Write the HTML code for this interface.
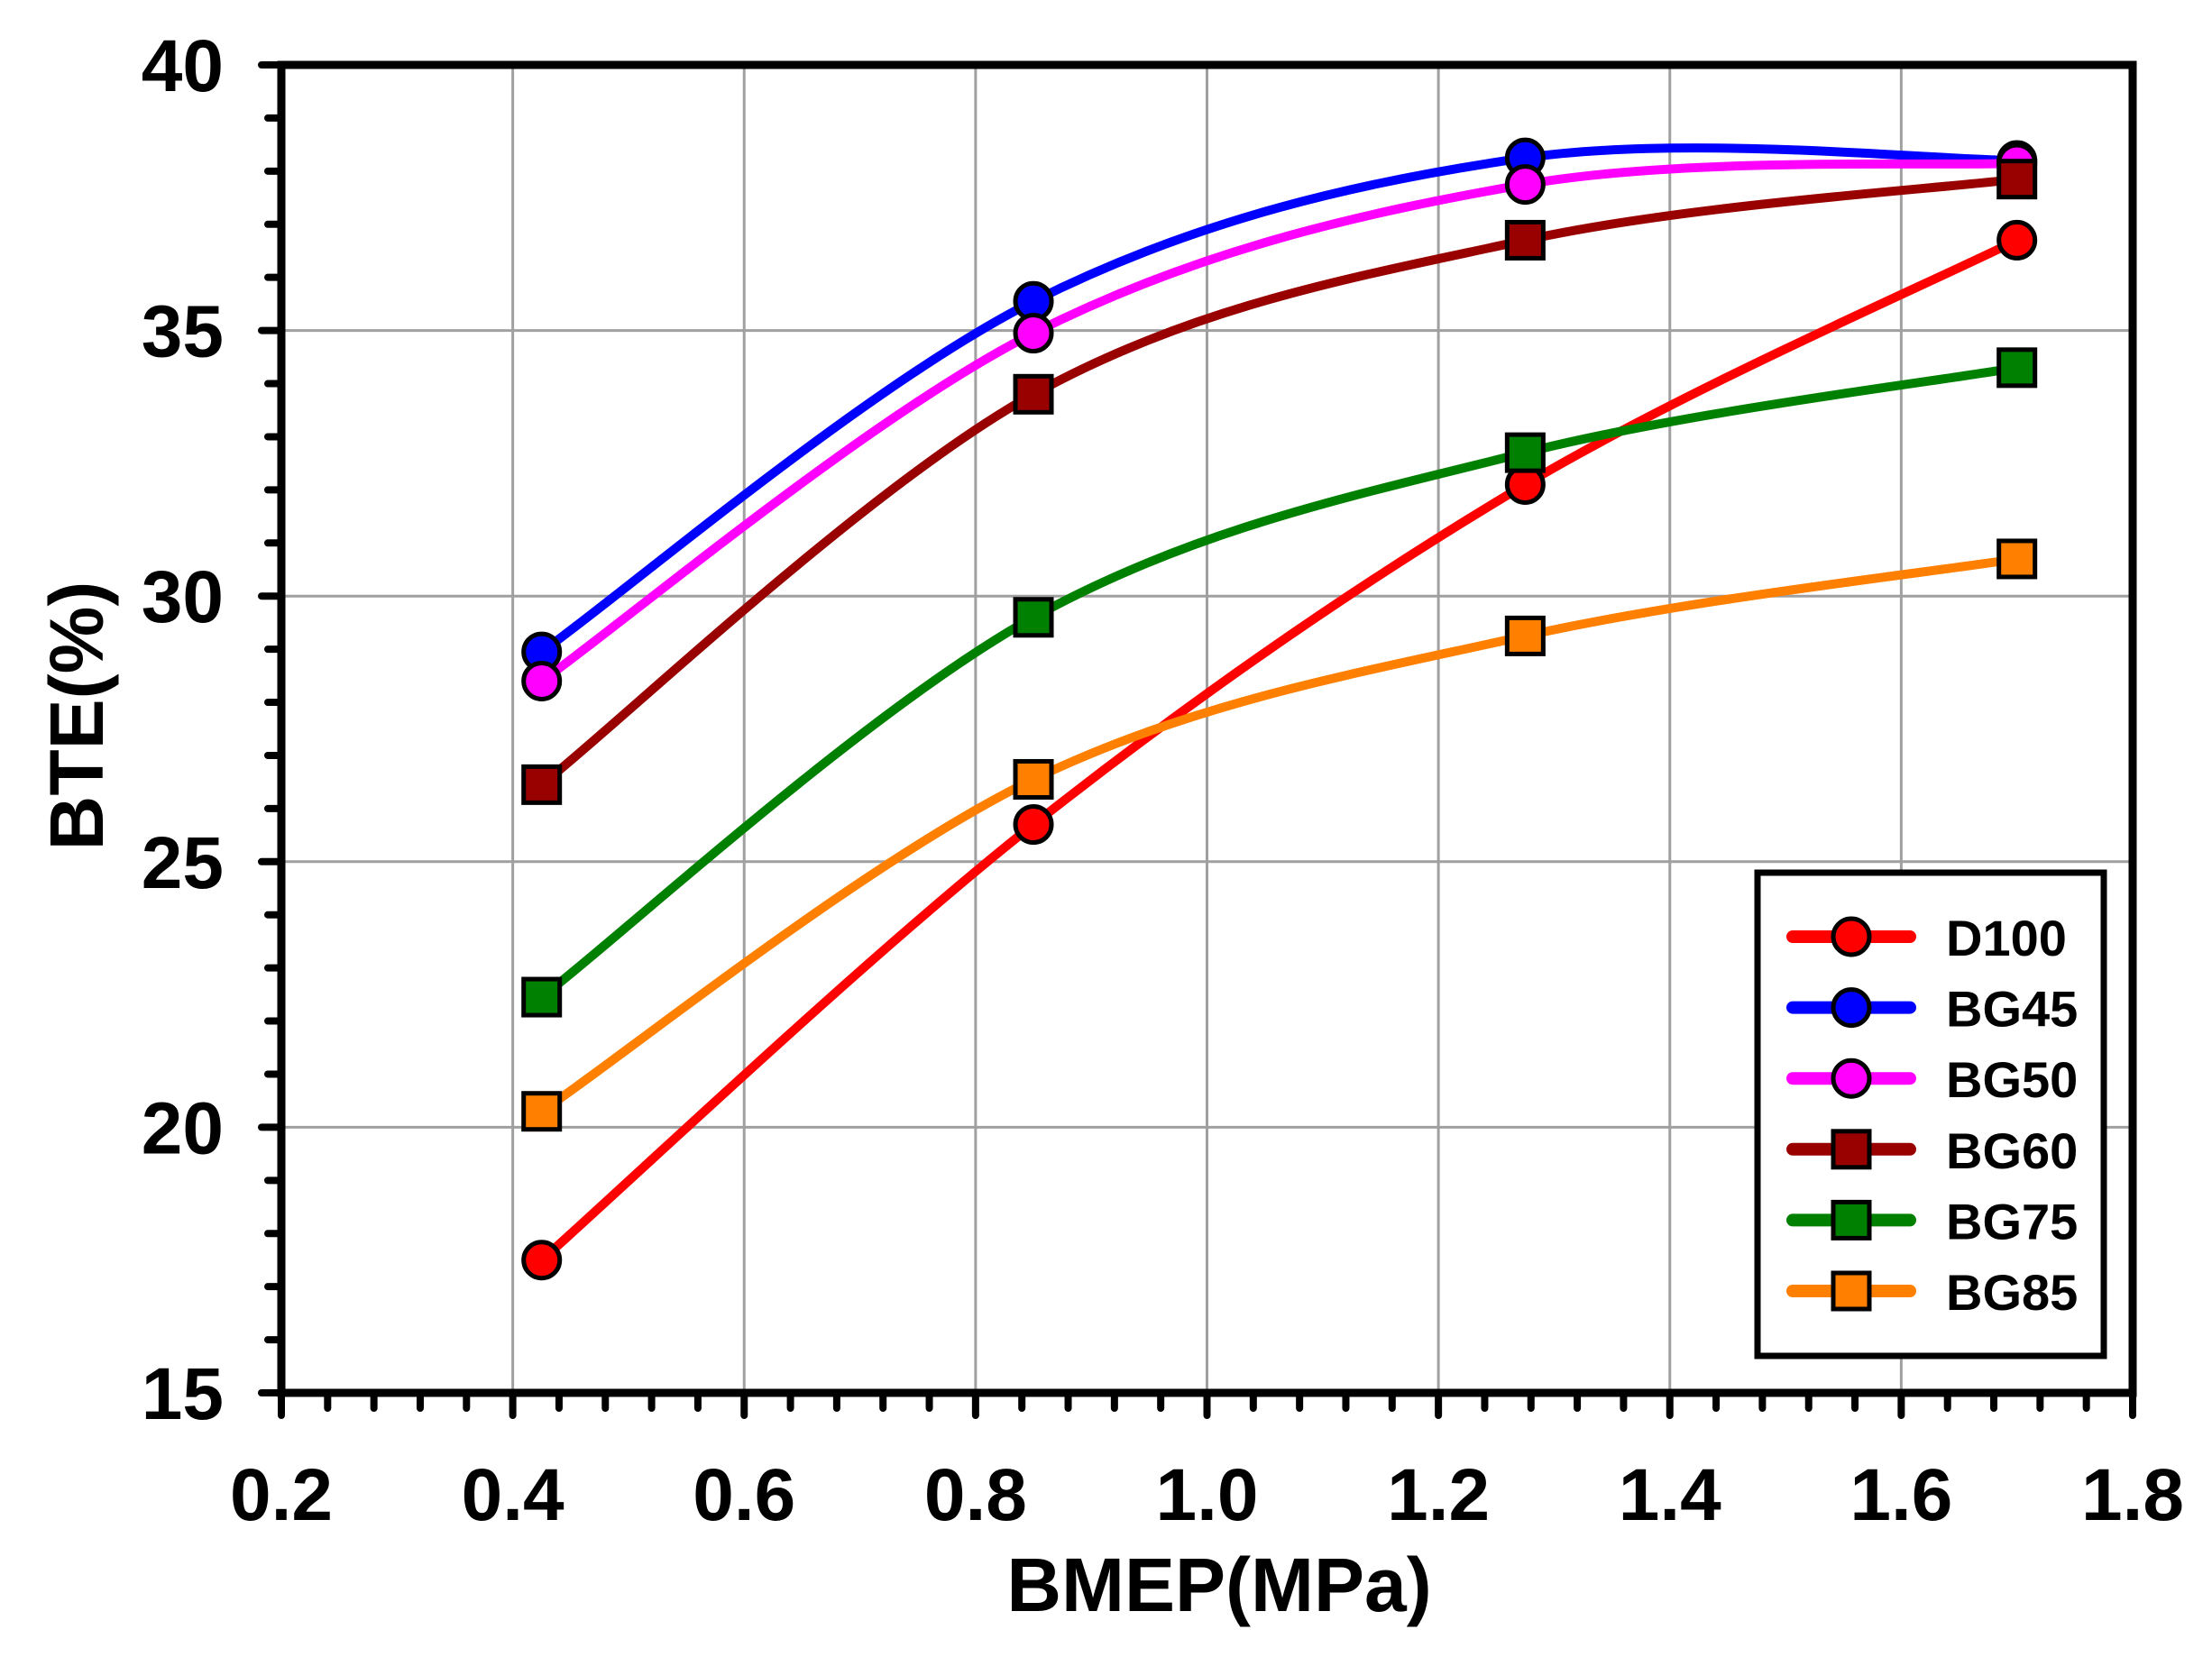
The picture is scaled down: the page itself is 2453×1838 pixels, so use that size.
<!DOCTYPE html>
<html><head><meta charset="utf-8"><style>
html,body{margin:0;padding:0;background:#fff}
svg text{font-family:"Liberation Sans",Arial,sans-serif;font-weight:bold;fill:#000}
</style></head><body>
<svg id="s" width="2453" height="1833" viewBox="0 0 2453 1833" xmlns="http://www.w3.org/2000/svg"></svg>
<script>
const S=document.getElementById('s');const NS='http://www.w3.org/2000/svg';
function el(t,a,txt){const e=document.createElementNS(NS,t);for(const k in a)e.setAttribute(k,a[k]);if(txt!==undefined)e.textContent=txt;S.appendChild(e);return e;}
const L=312,R=2365,T=72,B=1545;
const X=v=>L+(v-0.2)*(R-L)/1.6, Y=v=>B-(v-15)*(B-T)/25;
for(let v=0.4;v<1.75;v+=0.2)el('line',{x1:X(v),x2:X(v),y1:T,y2:B,stroke:'#a0a0a0','stroke-width':3});
for(let v=20;v<40;v+=5)el('line',{x1:L,x2:R,y1:Y(v),y2:Y(v),stroke:'#a0a0a0','stroke-width':3});
for(let i=0;i<=25;i++){const y=Y(15+i);const maj=i%5==0;el('line',{x1:L-(maj?22:15),x2:L,y1:y,y2:y,stroke:'#000','stroke-width':8,'stroke-linecap':'round'});}
for(let i=0;i<=40;i++){const x=X(0.2+i*0.04);const maj=i%5==0;el('line',{x1:x,x2:x,y1:B,y2:B+(maj?25:17),stroke:'#000','stroke-width':8,'stroke-linecap':'round'});}
el('rect',{x:L,y:T,width:R-L,height:B-T,fill:'none',stroke:'#000','stroke-width':9});
for(let v=15;v<=40;v+=5)el('text',{x:248,y:Y(v)+29,'font-size':82,'text-anchor':'end'},String(v));
for(let i=0;i<=8;i++){const v=0.2+i*0.2;el('text',{x:X(v),y:1686,'font-size':82,'text-anchor':'middle'},v.toFixed(1));}
el('text',{x:1352,y:1787,'font-size':84,'text-anchor':'middle'},'BMEP(MPa)');
el('text',{x:0,y:0,'font-size':84,'text-anchor':'middle',transform:'translate(114,794) rotate(-90)'},'BTE(%)');
const xs=[0.425,0.85,1.275,1.7];
const ser=[
['D100','#ff0000','c',[17.5,25.7,32.1,36.7]],
['BG45','#0000ff','c',[28.95,35.55,38.25,38.2]],
['BG50','#ff00ff','c',[28.4,34.95,37.75,38.15]],
['BG60','#990000','s',[26.45,33.8,36.7,37.85]],
['BG75','#008000','s',[22.45,29.6,32.7,34.3]],
['BG85','#ff8000','s',[20.3,26.55,29.25,30.7]]];
function path(p){let d='M'+p[0][0]+','+p[0][1];for(let i=0;i<p.length-1;i++){const p0=p[i-1]||p[i],p1=p[i],p2=p[i+1],p3=p[i+2]||p[i+1];
const c1=[p1[0]+(p2[0]-p0[0])/6,p1[1]+(p2[1]-p0[1])/6],c2=[p2[0]-(p3[0]-p1[0])/6,p2[1]-(p3[1]-p1[1])/6];d+=' C'+c1+' '+c2+' '+p2;}return d;}
function mk(x,y,c,t){if(t=='c')el('circle',{cx:x,cy:y,r:20,fill:c,stroke:'#000','stroke-width':5});else el('rect',{x:x-20,y:y-20,width:40,height:40,fill:c,stroke:'#000','stroke-width':5});}
ser.forEach(s=>{const p=xs.map((x,i)=>[X(x),Y(s[3][i])]);el('path',{d:path(p),fill:'none',stroke:s[1],'stroke-width':10,'stroke-linecap':'round'});});
ser.forEach(s=>{xs.forEach((x,i)=>mk(X(x),Y(s[3][i]),s[1],s[2]));});
el('rect',{x:1949,y:968,width:384,height:536,fill:'#fff',stroke:'#000','stroke-width':7});
ser.forEach((s,i)=>{const y=1039+i*78.6;el('line',{x1:1988,x2:2118,y1:y,y2:y,stroke:s[1],'stroke-width':14,'stroke-linecap':'round'});mk(2053,y,s[1],s[2]);el('text',{x:2158,y:y+21,'font-size':56},s[0]);});
</script>
</body></html>
